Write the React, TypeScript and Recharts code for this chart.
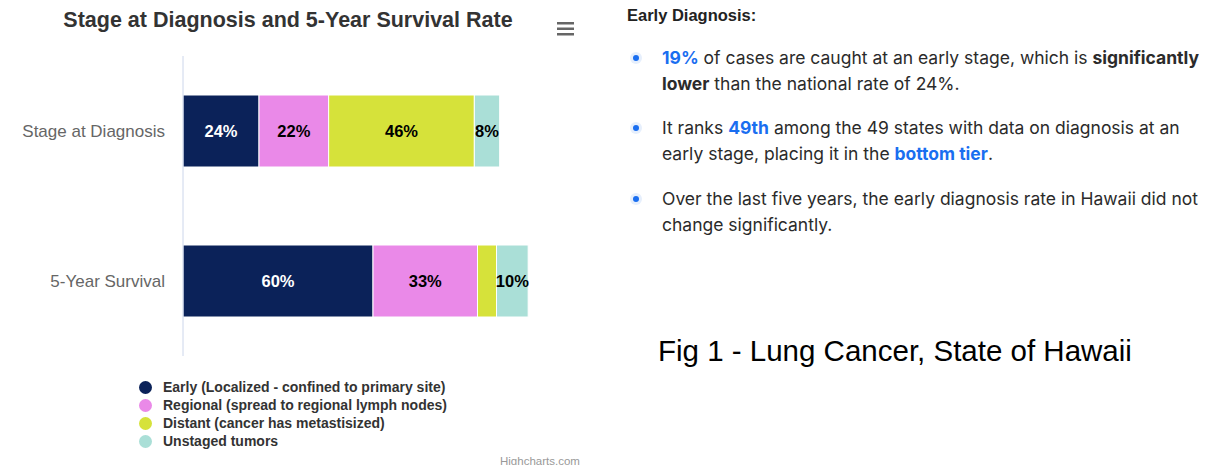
import { BarChart, Bar, XAxis, YAxis, LabelList } from 'recharts';

const categories = ['Stage at Diagnosis', '5-Year Survival'];
const early = [24, 60];
const regional = [22, 33];
const distant = [46, 6];
const unstaged = [8, 10];

const seriesKeys = ['early', 'regional', 'distant', 'unstaged'];
const seriesNames = [
  'Early (Localized - confined to primary site)',
  'Regional (spread to regional lymph nodes)',
  'Distant (cancer has metastisized)',
  'Unstaged tumors',
];
const seriesColors = ['#0b2259', '#ea89e8', '#d6e23a', '#aadfd7'];
const labelColors = ['#ffffff', '#000000', '#000000', '#000000'];

const data = categories.map((category, i) => ({
  category,
  early: early[i],
  regional: regional[i],
  distant: distant[i],
  unstaged: unstaged[i],
}));

const FONT = '"Liberation Sans", Arial, Helvetica, sans-serif';
const BLUE = '#1a6ef0';

function makeLabel(color: string) {
  return (props: any) => {
    const { x, y, width, height, value } = props;
    if (width < 20) return null;
    return (
      <text
        x={x + width / 2}
        y={y + height / 2}
        textAnchor="middle"
        dominantBaseline="central"
        fill={color}
        fontSize={16.5}
        fontWeight="bold"
        fontFamily={FONT}
      >
        {value}%
      </text>
    );
  };
}

function Bullet() {
  return (
    <span
      style={{
        position: 'absolute',
        left: -29,
        top: 10,
        width: 6,
        height: 6,
        borderRadius: '50%',
        background: BLUE,
        boxShadow: '0 0 0 3px #e6effc',
      }}
    />
  );
}

export default function App() {
  const item: React.CSSProperties = {
    position: 'absolute',
    left: 662,
    fontFamily: 'Inter, "Liberation Sans", sans-serif',
    fontSize: 17.5,
    lineHeight: '26px',
    color: '#2b2b2b',
    whiteSpace: 'nowrap',
  };
  const blue: React.CSSProperties = { color: BLUE, fontWeight: 'bold' };

  return (
    <div style={{ position: 'absolute', left: 0, top: 0, width: 1209, height: 465, background: '#fff', fontFamily: FONT }}>
      <div
        style={{
          position: 'absolute',
          left: 0,
          width: 576,
          top: 8,
          textAlign: 'center',
          fontSize: 21.5,
          fontWeight: 'bold',
          color: '#333',
        }}
      >
        Stage at Diagnosis and 5-Year Survival Rate
      </div>
      <svg style={{ position: 'absolute', left: 557, top: 22 }} width={18} height={14}>
        <rect x={0} y={0} width={17} height={2.5} fill="#666" />
        <rect x={0} y={5.5} width={17} height={2.5} fill="#666" />
        <rect x={0} y={11} width={17} height={2.5} fill="#666" />
      </svg>

      <div style={{ position: 'absolute', left: 0, top: 0 }}>
        <BarChart
          width={600}
          height={465}
          data={data}
          layout="vertical"
          margin={{ top: 56, right: 37, bottom: 109, left: 0 }}
          barSize={72}
        >
          <XAxis type="number" hide domain={[0, 120]} />
          <YAxis
            type="category"
            dataKey="category"
            width={183}
            axisLine={{ stroke: '#ccd6eb' }}
            tickLine={false}
            tickMargin={12}
            tick={{ fill: '#666', fontSize: 17, fontFamily: FONT }}
          />
          {seriesKeys.map((key, i) => (
            <Bar
              key={key}
              dataKey={key}
              name={seriesNames[i]}
              stackId="a"
              fill={seriesColors[i]}
              stroke="#ffffff"
              strokeWidth={1}
              isAnimationActive={false}
            >
              <LabelList dataKey={key} content={makeLabel(labelColors[i])} />
            </Bar>
          ))}
        </BarChart>
      </div>

      <div style={{ position: 'absolute', left: 139, top: 378 }}>
        {seriesNames.map((name, i) => (
          <div key={name} style={{ display: 'flex', alignItems: 'center', height: 18 }}>
            <span
              style={{
                display: 'inline-block',
                width: 13,
                height: 13,
                borderRadius: '50%',
                background: seriesColors[i],
                marginRight: 11,
              }}
            />
            <span style={{ fontSize: 14, fontWeight: 'bold', color: '#333' }}>{name}</span>
          </div>
        ))}
      </div>
      <div style={{ position: 'absolute', left: 500, top: 455, fontSize: 11.5, color: '#999' }}>Highcharts.com</div>

      <div style={{ position: 'absolute', left: 627, top: 6, fontSize: 16.5, fontWeight: 'bold', color: '#222' }}>
        Early Diagnosis:
      </div>
      <div style={{ ...item, top: 45 }}>
        <Bullet />
        <span style={blue}>19%</span> of cases are caught at an early stage, which is <b>significantly</b>
        <br />
        <b>lower</b> than the national rate of 24%.
      </div>
      <div style={{ ...item, top: 115 }}>
        <Bullet />
        It ranks <span style={blue}>49th</span> among the 49 states with data on diagnosis at an
        <br />
        early stage, placing it in the <span style={blue}>bottom tier</span>.
      </div>
      <div style={{ ...item, top: 186 }}>
        <Bullet />
        Over the last five years, the early diagnosis rate in Hawaii did not
        <br />
        change significantly.
      </div>

      <div style={{ position: 'absolute', left: 658, top: 334, fontSize: 29.5, color: '#000' }}>
        Fig 1 - Lung Cancer, State of Hawaii
      </div>
    </div>
  );
}
